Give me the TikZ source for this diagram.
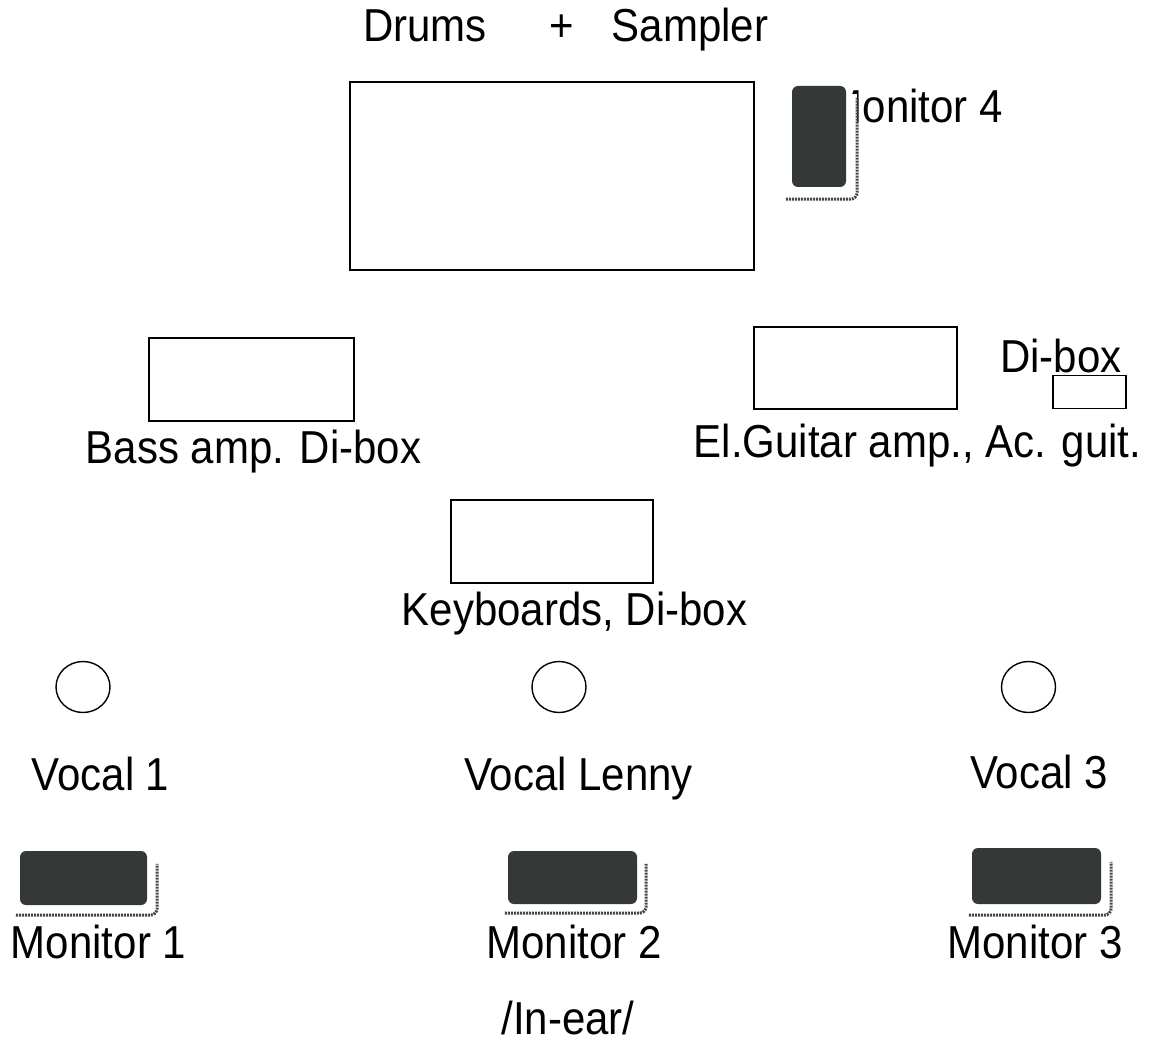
\documentclass[tikz,border=0pt]{standalone}
\usepackage{fontspec}
\usetikzlibrary{shapes.geometric}
\setmainfont{Liberation Sans}
\definecolor{monfill}{RGB}{52,56,54}
\definecolor{shadowc}{RGB}{70,70,70}
\newcommand\lbltext[1]{\scalebox{1}[1.1]{#1}}
\begin{document}
\begin{tikzpicture}[x=1pt,y=-1pt,
  box/.style={draw=black, line width=1.4pt, fill=white, inner sep=0pt, rectangle},
  mic/.style={draw=black, line width=1.4pt, ellipse, inner sep=0pt, minimum width=54pt, minimum height=51pt},
  monbox/.style={fill=monfill, rounded corners=6pt, inner sep=0pt, rectangle},
  shadowbox/.style={fill=white, inner sep=0pt, rectangle},
  shadowline/.style={draw=shadowc, line width=3pt, dash pattern=on 2pt off 1pt, rounded corners=7pt},
  lbl/.style={anchor=base, inner sep=0pt, font=\fontsize{42}{50}\selectfont, text=black}]
\useasboundingbox (0,0) rectangle (1154,1043);
\fill[white] (0,0) rectangle (1154,1043);

% top labels
\node[lbl] (tdrums) at (425,42) {\lbltext{Drums}};
\node[lbl] (tplus) at (562,42) {\lbltext{+}};
\node[lbl] (tsampler) at (690,42) {\lbltext{Sampler}};

% drums riser
\node[box, minimum width=404pt, minimum height=188pt] (drums) at (552,176) {};

% monitor 4 (label partly hidden behind the wedge)
\node[lbl, anchor=base east] (tmon4) at (1003,123) {\lbltext{Monitor 4}};
\node[shadowbox, minimum width=70pt, minimum height=105pt] (mon4s) at (822,146.5) {};
\draw[shadowline] ([xshift=-1pt]mon4s.south west) -- (mon4s.south east) -- ([yshift=-4pt]mon4s.north east);
\node[monbox, minimum width=54pt, minimum height=101pt] (mon4) at (819,136.5) {};

% bass
\node[box, minimum width=205pt, minimum height=83pt] (bass) at (251.5,379.5) {};
\node[lbl] (tbass) at (253.5,463) {\lbltext{Bass amp. Di-box}};

% guitar
\node[box, minimum width=203pt, minimum height=82pt] (guitar) at (855.5,368) {};
\node[lbl] (tguitar) at (917.5,457) {\lbltext{El.Guitar amp., Ac. guit.}};
\node[lbl] (tdibox) at (1061,372) {\lbltext{Di-box}};
\node[box, minimum width=73pt, minimum height=33pt] (dibox) at (1089.5,392) {};

% keyboards
\node[box, minimum width=202pt, minimum height=83pt] (keys) at (552,541.5) {};
\node[lbl] (tkeys) at (574.5,625) {\lbltext{Keyboards, Di-box}};

% vocal mics
\node[mic] (voc1) at (83,687) {};
\node[mic] (voc2) at (559,687) {};
\node[mic] (voc3) at (1028.5,687) {};
\node[lbl] (tvoc1) at (100.5,790) {\lbltext{Vocal 1}};
\node[lbl] (tvoc2) at (578.5,790) {\lbltext{Vocal Lenny}};
\node[lbl] (tvoc3) at (1039,788) {\lbltext{Vocal 3}};

% floor monitors
\node[shadowbox, minimum width=141pt, minimum height=57pt] (mon1s) at (86.5,886.5) {};
\draw[shadowline] (mon1s.south west) -- (mon1s.south east) -- ([yshift=-6pt]mon1s.north east);
\node[monbox, minimum width=127pt, minimum height=54pt] (mon1) at (83.5,878) {};

\node[shadowbox, minimum width=141pt, minimum height=55pt] (mon2s) at (575.5,885.5) {};
\draw[shadowline] (mon2s.south west) -- (mon2s.south east) -- ([yshift=-6pt]mon2s.north east);
\node[monbox, minimum width=129pt, minimum height=53pt] (mon2) at (572.5,877.5) {};

\node[shadowbox, minimum width=142pt, minimum height=59pt] (mon3s) at (1040,885.5) {};
\draw[shadowline] (mon3s.south west) -- (mon3s.south east) -- ([yshift=-6pt]mon3s.north east);
\node[monbox, minimum width=129pt, minimum height=56pt] (mon3) at (1036.5,876) {};

\node[lbl] (tmon1) at (98.5,958) {\lbltext{Monitor 1}};
\node[lbl] (tmon2) at (574,958) {\lbltext{Monitor 2}};
\node[lbl] (tmon3) at (1035,958) {\lbltext{Monitor 3}};
\node[lbl] (tinear) at (568,1034) {\lbltext{/In-ear/}};
\end{tikzpicture}
\end{document}
